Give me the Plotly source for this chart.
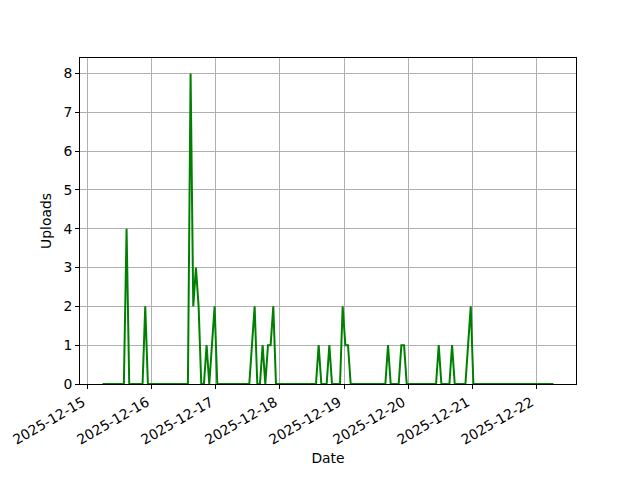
import pandas as pd
import plotly.graph_objects as go

# hourly upload counts, starting 2025-12-15 05:30
start_time = "2025-12-15 05:30"
n_hours = 170
nonzero_uploads = {
    9: 4, 16: 2,
    33: 8, 34: 2, 35: 3, 36: 2, 39: 1, 41: 1, 42: 2,
    56: 1, 57: 2, 60: 1, 62: 1, 63: 1, 64: 2,
    81: 1, 85: 1, 90: 2, 91: 1, 92: 1,
    107: 1, 112: 1, 113: 1, 126: 1, 131: 1, 137: 1, 138: 2,
}
uploads = [nonzero_uploads.get(k, 0) for k in range(n_hours)]
times = pd.date_range(start_time, periods=n_hours, freq="h")

tick_dates = pd.date_range("2025-12-15", "2025-12-22", freq="D")
tick_labels = [d.strftime("%Y-%m-%d") for d in tick_dates]
y_ticks = list(range(0, 9))

span = times[-1] - times[0]
x_range = [times[0] - span * 0.05, times[-1] + span * 0.05]

fig = go.Figure()
fig.add_trace(go.Scatter(
    x=times, y=uploads, mode="lines",
    line=dict(color="#008000", width=2),
    showlegend=False,
))

font = dict(family="DejaVu Sans", size=13.9, color="black")
axis_common = dict(
    showline=True, linecolor="black", linewidth=1, mirror=True,
    ticks="outside", ticklen=4, tickcolor="black", tickwidth=1,
    showgrid=True, gridcolor="#b0b0b0", gridwidth=0.8,
    zeroline=False, tickfont=font, automargin=False,
)
fig.update_layout(
    width=640, height=480,
    margin=dict(l=80, r=64, t=58, b=96),
    paper_bgcolor="white", plot_bgcolor="white",
    font=font,
    xaxis=dict(
        range=x_range, tickvals=tick_dates, ticktext=tick_labels,
        tickangle=-30, ticklabelshift=-5,
        title=dict(text="Date", font=font, standoff=6),
        **axis_common,
    ),
    yaxis=dict(
        range=[0, 8.4], tickvals=y_ticks,
        title=dict(text="Uploads", font=font, standoff=8),
        **axis_common,
    ),
)
fig.write_html(
    "out.html",
    config={"displayModeBar": False},
    post_script="document.body.style.margin='0';document.body.style.padding='0';",
)
